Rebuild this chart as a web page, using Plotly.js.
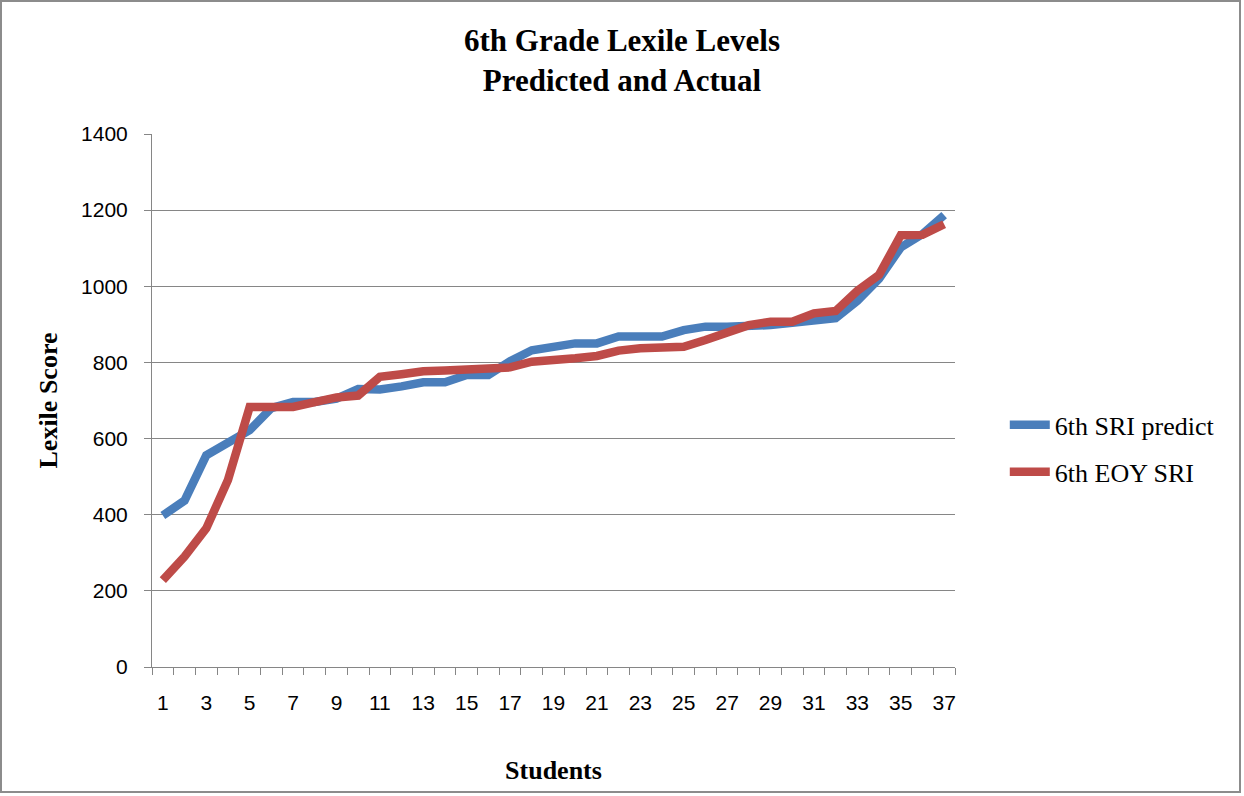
<!DOCTYPE html>
<html>
<head>
<meta charset="utf-8">
<script src="https://cdn.plot.ly/plotly-3.0.1.min.js"></script>
<style>
  html, body { margin: 0; padding: 0; background: #fff; }
  #wrap { position: relative; width: 1244px; height: 796px; }
  #chart { width: 1244px; height: 796px; }
  #frame { position: absolute; left: 0; top: 0; width: 1241px; height: 793px; border: 2px solid #8c8c8c; box-sizing: border-box; pointer-events: none; }
</style>
</head>
<body>
<div id="wrap"><div id="chart"></div><div id="frame"></div></div>
<script>
const students = [1,2,3,4,5,6,7,8,9,10,11,12,13,14,15,16,17,18,19,20,21,22,23,24,25,26,27,28,29,30,31,32,33,34,35,36,37];
const sriPredict = [398,437,556,591,622,680,696,696,705,730,729,737,748,748,767,767,803,832,840,850,850,868,868,868,885,894,894,894,898,904,911,916,962,1020,1102,1137,1187];
const eoySri = [228,290,364,491,683,685,683,696,708,713,762,769,777,779,782,789,787,802,805,811,817,831,837,838,841,859,876,898,907,907,929,935,988,1030,1134,1135,1163];
const xTickLabels = ['1','3','5','7','9','11','13','15','17','19','21','23','25','27','29','31','33','35','37'];
const xTickVals = xTickLabels.map(Number);

const serif = 'Liberation Serif, Times New Roman, serif';
const sans = 'Liberation Sans, Arial, sans-serif';

const traces = [
  { x: students, y: sriPredict, type: 'scatter', mode: 'lines', name: '6th SRI predict',
    line: { color: '#4a7ebb', width: 8.5 }, legendgroup: 'a' },
  { x: students, y: eoySri, type: 'scatter', mode: 'lines', name: '6th EOY SRI',
    line: { color: '#be4b48', width: 8.5 }, legendgroup: 'b' }
];

const layout = {
  width: 1244, height: 796,
  margin: { l: 152, r: 289, t: 134, b: 129 },
  paper_bgcolor: '#fff', plot_bgcolor: '#fff',
  title: {
    text: '<b>6th Grade Lexile Levels<br>Predicted and Actual</b>',
    font: { family: serif, size: 31, color: '#000' },
    xref: 'container', x: 0.5, xanchor: 'center',
    yref: 'container', y: 0.936, yanchor: 'top'
  },
  xaxis: {
    range: [0.5, 37.5], tickmode: 'array', tickvals: xTickVals, ticktext: xTickLabels,
    ticks: '', showgrid: false, zeroline: false, ticklabelstandoff: 17,
    showline: true, linecolor: '#868686', linewidth: 1,
    tickfont: { family: sans, size: 21, color: '#000' },
    minor: { tickmode: 'linear', tick0: 0.5, dtick: 1, ticks: 'outside', ticklen: 7, tickcolor: '#868686', showgrid: false },
    title: { text: '<b>Students</b>', font: { family: serif, size: 26, color: '#000' }, standoff: 47 }
  },
  yaxis: {
    range: [0, 1400], dtick: 200, tick0: 0,
    ticks: 'outside', ticklen: 7, tickcolor: '#868686', ticklabelstandoff: 12,
    showgrid: true, gridcolor: '#868686', gridwidth: 1,
    zeroline: false, showline: true, linecolor: '#868686', linewidth: 1,
    tickfont: { family: sans, size: 21, color: '#000' },
    title: { text: '<b>Lexile Score</b>', font: { family: serif, size: 26, color: '#000' }, standoff: 15 }
  },
  showlegend: true,
  legend: {
    x: 1.062, xanchor: 'left', y: 0.41, yanchor: 'middle',
    font: { family: serif, size: 26, color: '#000' },
    traceorder: 'grouped', tracegroupgap: 10, itemwidth: 40,
    bgcolor: 'rgba(0,0,0,0)'
  }
};

Plotly.newPlot('chart', traces, layout, { displayModeBar: false, staticPlot: true });
</script>
</body>
</html>
